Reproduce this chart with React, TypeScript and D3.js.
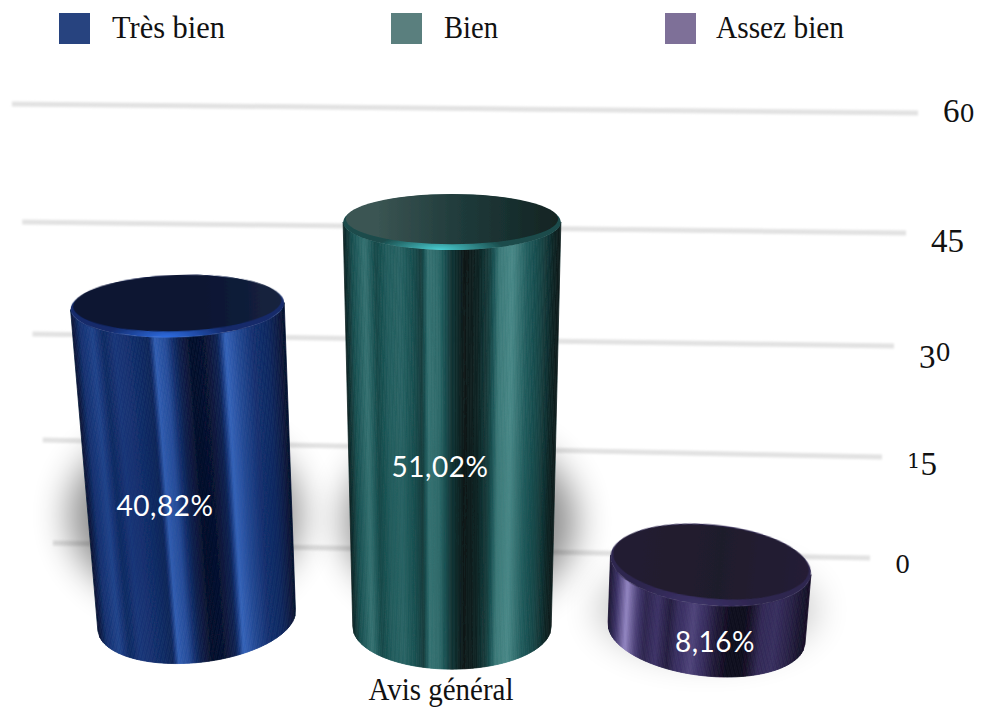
import React from 'react';
import * as d3 from 'd3';

// Chart values
const categories = ['Très bien', 'Bien', 'Assez bien'];
const percents = [40.82, 51.02, 8.16];
const percentLabels = ['40,82%', '51,02%', '8,16%'];
const tickValues = [0, 15, 30, 45, 60];
const axisLabel = 'Avis général';
const legendColors = ['#27437f', '#5a7f7e', '#7e7098'];

// Light ramps for the metal look of each cylinder: dark, middle, bright
const sideRamps = [
  ['#060e26', '#14306f', '#3d70cc'],
  ['#0b1717', '#1c5556', '#5c9e9c'],
  ['#0c0918', '#3c3266', '#9c8ecc'],
];
const capColors = [
  ['#0b1433', '#0a1230', '#15243f'],
  ['#3a5452', '#1f3a3a', '#122423'],
  ['#221c30', '#1f1a2c', '#251e36'],
];
const rimColors = [
  ['#2f6fe6', '#12296a'],
  ['#4ad0d4', '#1a4c4c'],
  ['#3c3268', '#2e2650'],
];
const sheenStops = [0, 0.04, 0.1, 0.15, 0.2, 0.26, 0.32, 0.36, 0.39, 0.44, 0.5, 0.56, 0.62, 0.68, 0.72, 0.78, 0.85, 0.92, 0.97, 1];
const blueSheen = [0.08, 0.5, 0.65, 0.42, 0.55, 0.5, 0.42, 0.35, 0.85, 0.72, 0.28, 0.03, 0.08, 0.3, 0.9, 0.7, 0.5, 0.4, 0.2, 0.05];
const greenSheen = [0.08, 0.45, 0.7, 0.4, 0.55, 0.6, 0.45, 0.3, 0.7, 0.65, 0.25, 0.02, 0.1, 0.35, 0.75, 0.85, 0.55, 0.35, 0.12, 0.05];
const purpleSheen = [0.15, 0.45, 0.95, 0.6, 0.35, 0.5, 0.25, 0.45, 0.5, 0.6, 0.45, 0.2, 0.05, 0.02, 0.1, 0.4, 0.45, 0.3, 0.15, 0.1];
const sheenLevels = [blueSheen, greenSheen, purpleSheen];

const width = 983;
const height = 709;

// Perspective: verticals converge on a point far below the chart
const vanishX = 452;
const vanishY = 4780;
const refY = 300;
const radius = 107;
const depth = (y: number) => (vanishY - y) / (vanishY - refY);

const xWorld = d3.scalePoint<string>().domain(categories).range([-275, 275]);
const baseY = d3.scalePoint<string>().domain(categories).range([620, 633]);
const heightScale = d3.scaleLinear().domain(tickValues).range([0, 125, 228, 347, 490]);

// Gridline ends in the tilted plane of the back wall
const gridLeftX = d3.scaleLinear().domain([0, 60]).range([53, 12]);
const gridRightX = d3.scaleLinear().domain([0, 60]).range([870, 918]);
const gridLeftY = d3.scaleLinear().domain(tickValues).range([543, 440, 334, 222, 104]);
const gridRightY = d3.scaleLinear().domain(tickValues).range([558, 457, 346, 233, 113]);
const tickBaseline = d3.scaleLinear().domain(tickValues).range([573, 468, 361, 245, 122]);

const line = d3.line();

type Ring = { cx: number; cy: number; rx: number; ry: number; tilt: number };

function ringAt(worldX: number, y: number): Ring {
  const tiltDeg = (worldX / 275) * (1.8 + ((y - refY) / 320) * 4.5);
  return {
    cx: vanishX + worldX * depth(y),
    cy: y,
    rx: radius * depth(y),
    ry: radius * depth(y) * 0.00043 * (y + 373),
    tilt: (tiltDeg * Math.PI) / 180,
  };
}

function onRing(r: Ring, theta: number): [number, number] {
  const lx = r.rx * Math.cos(theta);
  const ly = r.ry * Math.sin(theta);
  return [r.cx + lx * Math.cos(r.tilt) - ly * Math.sin(r.tilt), r.cy + lx * Math.sin(r.tilt) + ly * Math.cos(r.tilt)];
}

const STRIPS = 150;

function Cylinder({ index }: { index: number }) {
  const cat = categories[index];
  const wx = xWorld(cat) as number;
  const by = baseY(cat) as number;
  const ty = by - heightScale(percents[index]);
  const top = ringAt(wx, ty);
  const base = ringAt(wx, by);
  const sheen = d3.scaleLinear().domain(sheenStops).range(sheenLevels[index]);
  const ramp = d3.scaleLinear<string>().domain([0, 0.5, 1]).range(sideRamps[index]).interpolate(d3.interpolateRgb);
  const strips = d3.range(STRIPS).map((i) => {
    const u0 = i / STRIPS;
    const u1 = (i + 1) / STRIPS;
    const t0 = Math.acos(1 - 2 * u0);
    const t1 = Math.acos(1 - 2 * u1);
    // theta runs from the left edge (PI) to the right edge (0) along the front
    return {
      d: line([onRing(top, Math.PI - t0), onRing(top, Math.PI - t1), onRing(base, Math.PI - t1), onRing(base, Math.PI - t0)]) + 'Z',
      fill: ramp(sheen((u0 + u1) / 2)),
    };
  });
  const deg = (top.tilt * 180) / Math.PI;
  return (
    <g>
      <g filter="url(#soft)">
        {strips.map((s, i) => (
          <path key={i} d={s.d} fill={s.fill} stroke={s.fill} strokeWidth={0.8} />
        ))}
      </g>
      <g transform={`rotate(${deg} ${top.cx} ${top.cy})`} filter="url(#soft)">
        <ellipse cx={top.cx} cy={top.cy} rx={top.rx} ry={top.ry} fill={`url(#rim${index})`} />
        <ellipse cx={top.cx} cy={top.cy - 3} rx={top.rx * 0.975} ry={top.ry * 0.9} fill={`url(#cap${index})`} />
      </g>
    </g>
  );
}

// Old-style figures: 0 and 1 sit at x-height, 3, 4 and 5 hang below the line
function digitStyle(d: string) {
  if (d === '0') return { size: 24, family: "'DejaVu Serif', serif", drop: 0 };
  if (d === '1') return { size: 21, family: "'DejaVu Serif', serif", drop: 0 };
  if (d === '3' || d === '4' || d === '5') return { size: 33, family: "'Liberation Serif', serif", drop: 7 };
  return { size: 33, family: "'Liberation Serif', serif", drop: 0 };
}

function TickLabel({ value }: { value: number }) {
  const digits = String(value).split('');
  return (
    <text x={gridRightX(value) + 25} y={tickBaseline(value)} fill="#111">
      {digits.map((d, i) => {
        const s = digitStyle(d);
        const prev = i > 0 ? digitStyle(digits[i - 1]).drop : 0;
        return (
          <tspan key={i} dy={s.drop - prev} fontSize={s.size} fontFamily={s.family}>
            {d}
          </tspan>
        );
      })}
    </text>
  );
}

export default function App() {
  const shadows = categories.map((cat, i) => {
    const wx = xWorld(cat) as number;
    const by = baseY(cat) as number;
    const h = heightScale(percents[i]);
    const r = ringAt(wx, by);
    const reach = Math.min(h, 300) / 300;
    return {
      cx: r.cx + (wx < 0 ? -12 : wx === 0 ? 8 : 0),
      cy: by - 105 * reach,
      rx: r.rx + 8 * reach + 8,
      ry: 36 + 54 * reach,
      opacity: 0.16 + 0.3 * reach,
    };
  });

  return (
    <svg width={width} height={height} style={{ position: 'absolute', left: 0, top: 0, display: 'block', background: '#fff' }}>
      <defs>
        <filter id="soft" x="-5%" y="-5%" width="110%" height="110%">
          <feGaussianBlur stdDeviation="0.7" />
        </filter>
        <filter id="gridBlur" x="-5%" y="-500%" width="110%" height="1100%">
          <feGaussianBlur stdDeviation="1.2" />
        </filter>
        <filter id="shadowBlur" x="-40%" y="-60%" width="180%" height="220%">
          <feGaussianBlur stdDeviation="18" />
        </filter>
        {categories.map((_, i) => (
          <React.Fragment key={i}>
            <linearGradient id={`cap${i}`} x1="0" x2="1" y1="0" y2="0">
              <stop offset="0.15" stopColor={capColors[i][0]} />
              <stop offset="0.55" stopColor={capColors[i][1]} />
              <stop offset="1" stopColor={capColors[i][2]} />
            </linearGradient>
            <radialGradient id={`rim${i}`} cx="0.44" cy="1" r="0.3">
              <stop offset="0" stopColor={rimColors[i][0]} />
              <stop offset="1" stopColor={rimColors[i][1]} />
            </radialGradient>
          </React.Fragment>
        ))}
      </defs>

      {/* gridlines and value axis */}
      {tickValues.map((v) => (
        <line
          key={v}
          x1={gridLeftX(v)}
          x2={gridRightX(v)}
          y1={gridLeftY(v)}
          y2={gridRightY(v)}
          stroke="#e2e2e2"
          strokeWidth={5}
          filter="url(#gridBlur)"
        />
      ))}
      {tickValues.map((v) => (
        <TickLabel key={v} value={v} />
      ))}

      {/* soft shadows behind the cylinders */}
      {shadows.map((s, i) => (
        <ellipse key={i} cx={s.cx} cy={s.cy} rx={s.rx} ry={s.ry} fill="#000" opacity={s.opacity} filter="url(#shadowBlur)" />
      ))}

      {categories.map((_, i) => (
        <Cylinder key={i} index={i} />
      ))}

      {/* percent labels */}
      {categories.map((cat, i) => {
        const by = baseY(cat) as number;
        const mid = by - heightScale(percents[i]) / 2;
        return (
          <text
            key={cat}
            x={440 + (xWorld(cat) as number)}
            y={mid + 53}
            fontFamily="Lato, sans-serif"
            fontSize={28}
            letterSpacing={0.5}
            textAnchor="middle"
            fill="#fff"
          >
            {percentLabels[i]}
          </text>
        );
      })}

      <text
        x={441}
        y={700}
        fontFamily="'Liberation Serif', serif"
        fontSize={31}
        textAnchor="middle"
        textLength={145}
        lengthAdjust="spacingAndGlyphs"
        fill="#111"
      >
        {axisLabel}
      </text>

      {/* legend */}
      {categories.map((cat, i) => {
        const lx = [59, 391, 665][i];
        return (
          <g key={cat}>
            <rect x={lx} y={13} width={31} height={31} fill={legendColors[i]} />
            <text
              x={lx + [53, 53, 51][i]}
              y={38}
              fontFamily="'Liberation Serif', serif"
              fontSize={31}
              textLength={[113, 54, 128][i]}
              lengthAdjust="spacingAndGlyphs"
              fill="#111"
            >
              {cat}
            </text>
          </g>
        );
      })}
    </svg>
  );
}
